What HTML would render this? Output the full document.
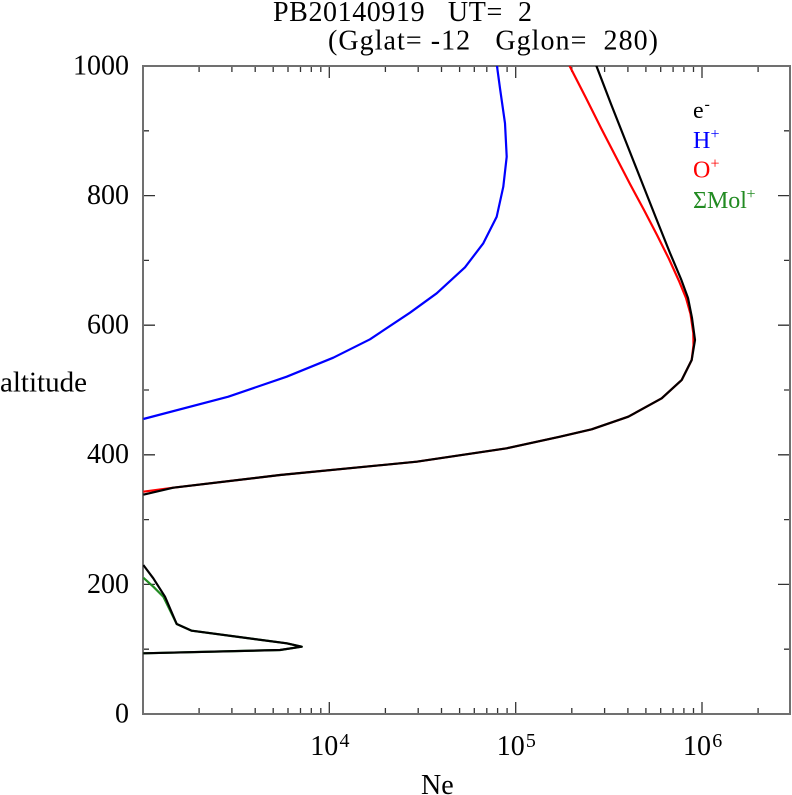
<!DOCTYPE html>
<html><head><meta charset="utf-8"><style>
html,body{margin:0;padding:0;background:#fff;}
svg{display:block;}
text{font-family:"Liberation Serif","DejaVu Serif",serif;white-space:pre;}
</style></head><body>
<svg width="792" height="795" viewBox="0 0 792 795" xmlns="http://www.w3.org/2000/svg">
<defs><clipPath id="pa"><rect x="143" y="66" width="648" height="649"/></clipPath></defs>
<!-- title -->
<text x="273" y="21" font-size="28" textLength="259" lengthAdjust="spacing" xml:space="preserve">PB20140919   UT=  2</text>
<text x="328" y="49.5" font-size="28" textLength="330" lengthAdjust="spacing" xml:space="preserve">(Gglat= -12   Gglon=  280)</text>

<!-- ticks -->
<g stroke="#333" stroke-width="1.3" fill="none">
<path d="M199.1 714v-6M231.9 714v-6M255.2 714v-6M273.2 714v-6M288 714v-6M300.5 714v-6M311.3 714v-6M320.8 714v-6M329.3 714v-12
M385.4 714v-6M418.2 714v-6M441.5 714v-6M459.6 714v-6M474.3 714v-6M486.8 714v-6M497.6 714v-6M507.1 714v-6M515.7 714v-12
M571.8 714v-6M604.6 714v-6M627.9 714v-6M645.9 714v-6M660.7 714v-6M673.1 714v-6M683.9 714v-6M693.5 714v-6M702 714v-12M758.1 714v-6"/>
<path d="M199.1 66v6M231.9 66v6M255.2 66v6M273.2 66v6M288 66v6M300.5 66v6M311.3 66v6M320.8 66v6M329.3 66v12
M385.4 66v6M418.2 66v6M441.5 66v6M459.6 66v6M474.3 66v6M486.8 66v6M497.6 66v6M507.1 66v6M515.7 66v12
M571.8 66v6M604.6 66v6M627.9 66v6M645.9 66v6M660.7 66v6M673.1 66v6M683.9 66v6M693.5 66v6M702 66v12M758.1 66v6"/>
<path d="M143 649.2h6M143 584.4h12M143 519.6h6M143 454.8h12M143 390h6M143 325.2h12M143 260.4h6M143 195.6h12M143 130.8h6"/>
<path d="M790 649.2h-6M790 584.4h-12M790 519.6h-6M790 454.8h-12M790 390h-6M790 325.2h-12M790 260.4h-6M790 195.6h-12M790 130.8h-6"/>
</g>
<rect x="143" y="66" width="647" height="648" fill="none" stroke="#707070" stroke-width="2"/>

<!-- y labels -->
<g font-size="28" text-anchor="end">
<text x="129" y="74.5">1000</text>
<text x="129" y="204">800</text>
<text x="129" y="333.5">600</text>
<text x="129" y="463">400</text>
<text x="129" y="593">200</text>
<text x="129" y="722.5">0</text>
</g>
<text x="0" y="391.5" font-size="28" textLength="87" lengthAdjust="spacingAndGlyphs">altitude</text>

<!-- x labels -->
<g font-size="28">
<text x="310.3" y="755">10</text><text x="339.5" y="747" font-size="20">4</text>
<text x="496.7" y="755">10</text><text x="525.9" y="747" font-size="20">5</text>
<text x="683" y="755">10</text><text x="712.2" y="747" font-size="20">6</text>
<text x="421" y="794">Ne</text>
</g>

<!-- legend -->
<g font-size="24">
<text x="693" y="118" fill="#000">e</text><text x="704.5" y="109" font-size="16" fill="#000">-</text>
<text x="693" y="148" fill="#0000ff">H</text><text x="710.5" y="139" font-size="16" fill="#0000ff">+</text>
<text x="693" y="177.5" fill="#ff0000">O</text><text x="710.5" y="168.5" font-size="16" fill="#ff0000">+</text>
<text x="693" y="208" fill="#228b22">ΣMol</text><text x="746.5" y="199" font-size="16" fill="#228b22">+</text>
</g>

<!-- curves -->
<g clip-path="url(#pa)" fill="none" stroke-width="2.2" stroke-linejoin="round">
<polyline stroke="#0000ff" points="143.3,419 228.3,396.7 286.7,376.7 333.3,357.7 370,339.3 410,312.7 436.7,293.3 465,267.3 483.3,243.3 496.7,216.7 503.3,186.7 506.7,156.7 505,123.3 500,88.3 496.7,64"/>
<polyline stroke="#ff0000" points="569,64 570,66.7 586,98 601,128 616,157 630,184 644,210 657,235 669,259 679,281 686,298 690.5,314 693.3,333 693.5,345 691.7,360 681.7,380 661.7,398.3 628.3,416.7 591.7,429.3 560,436.7 506.7,448.3 416.7,461.7 280,475 173.3,487.7 143.3,491.7"/>
<polyline stroke="#228b22" points="143.3,577.7 153.3,586.7 163.3,596.7 176.7,624 191.7,630.7 286.7,643.3 301.7,646.7 280,650 143.3,653.3"/>
<polyline stroke="#000" points="596,64 596.7,66.7 611,104 626,142 641,180 656,218 670,253 681,279 688,298 692,318 695,340 691.7,360 681.7,380 661.7,398.3 628.3,416.7 591.7,429.3 560,436.7 506.7,448.3 416.7,461.7 280,475 173.3,487.7 143.3,494.7"/>
<polyline stroke="#000" points="143.3,565 153.3,578.3 165,596.7 176.7,624 191.7,630.7 286.7,643.3 301.7,646.7 280,650 143.3,653.3"/>
</g>
</svg>
</body></html>
